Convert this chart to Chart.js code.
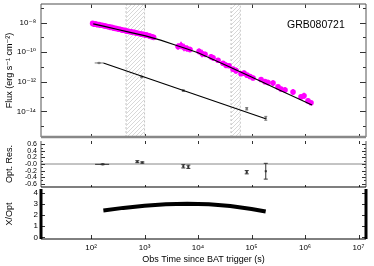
<!DOCTYPE html>
<html>
<head>
<meta charset="utf-8">
<script src="https://cdn.jsdelivr.net/npm/chart.js@4.4.0/dist/chart.umd.min.js"></script>
<style>
  html, body { margin: 0; padding: 0; background: #fff; }
  #wrap { position: relative; width: 374px; height: 266px; overflow: hidden; }
  #wrap canvas { position: absolute; left: 0; }
</style>
</head>
<body>
<div id="wrap">
  <canvas id="flux" width="374" height="141" style="top:0;width:374px;height:141px"></canvas>
  <canvas id="res" width="374" height="54" style="top:137px;width:374px;height:54px"></canvas>
  <canvas id="ratio" width="374" height="79" style="top:187px;width:374px;height:79px"></canvas>
</div>
<script>
// --- data ---
const grbName = 'GRB080721';

// XRT light curve (magenta), error = half width in dex
const xrtTime = [107, 115, 123, 132, 141, 151, 162, 174, 186, 200, 214, 229, 245, 263, 282, 302, 324, 347, 372, 398,
  427, 457, 490, 525, 562, 603, 646, 692, 741, 794, 851, 912, 977, 1047, 1122, 1202, 1288, 1380, 1479,
  4230, 4810, 5470, 6220, 7080, 10450, 11890, 13530, 17500, 19070, 23660, 29320, 33360, 37940, 45080,
  51290, 63630, 72390, 82380, 93740, 106700, 150600, 178600, 203200, 252200, 312900, 356000, 422600,
  596900, 841600, 957600, 1137000, 1294000];
const xrtFlux = [8.7e-9, 7.6e-9, 7.9e-9, 7.2e-9, 7.4e-9, 6.6e-9, 6.5e-9, 6.0e-9, 5.8e-9, 5.4e-9, 5.2e-9, 4.7e-9,
  4.7e-9, 4.2e-9, 4.0e-9, 3.9e-9, 3.5e-9, 3.5e-9, 3.2e-9, 3.0e-9, 2.95e-9, 2.7e-9, 2.6e-9, 2.45e-9, 2.35e-9,
  2.2e-9, 2.15e-9, 1.95e-9, 1.9e-9, 1.8e-9, 1.65e-9, 1.6e-9, 1.55e-9, 1.4e-9, 1.38e-9, 1.26e-9, 1.17e-9,
  1.1e-9, 1.0e-9,
  2.40e-10, 2.82e-10, 2.04e-10, 1.78e-10, 1.51e-10, 1.12e-10, 8.1e-11, 7.1e-11, 4.8e-11, 4.1e-11, 2.8e-11,
  1.78e-11, 1.29e-11, 1.20e-11, 7.1e-12, 5.6e-12, 3.5e-12, 3.8e-12, 2.8e-12, 2.24e-12, 1.78e-12, 1.41e-12,
  1.02e-12, 8.9e-13, 8.1e-13, 4.5e-13, 3.2e-13, 2.8e-13, 2.04e-13, 9.5e-14, 1.12e-13, 5.1e-14, 3.8e-14];
const xrtErr = [0.17, 0.16, 0.18, 0.16, 0.17, 0.15, 0.16, 0.17, 0.15, 0.16, 0.16, 0.17, 0.15, 0.16, 0.17, 0.15,
  0.16, 0.17, 0.16, 0.15, 0.16, 0.17, 0.16, 0.15, 0.17, 0.16, 0.15, 0.17, 0.16, 0.17, 0.18, 0.17, 0.18, 0.19,
  0.18, 0.17, 0.18, 0.17, 0.16,
  0.22, 0.25, 0.25, 0.22, 0.18, 0.2, 0.25, 0.18, 0.2, 0.2, 0.12, 0.15, 0.2, 0.15, 0.15, 0.2, 0.12, 0.18, 0.12,
  0.15, 0.15, 0.15, 0.15, 0.18, 0.2, 0.15, 0.15, 0.2, 0.2, 0.15, 0.2, 0.18, 0.12];

// X-ray model curve
const fitTime = [110, 178, 316, 562, 1000, 1995, 3981, 6310, 10000, 17800, 31600, 100000, 316000, 1349000];
const fitFlux = [8.1e-9, 5.5e-9, 3.39e-9, 2.09e-9, 1.29e-9, 6.5e-10, 2.82e-10, 1.62e-10, 9.1e-11, 3.6e-11,
  1.41e-11, 2.09e-12, 3.0e-13, 2.7e-14];

// optical points (grey) and model
const optTime = [141, 887, 5310, 81300, 184500];
const optTimeLo = [117, 850, 5150, 79500, 181000];
const optTimeHi = [170, 925, 5470, 83100, 188000];
const optFlux = [1.86e-11, 2.1e-12, 2.5e-13, 1.5e-14, 3.4e-15];
const optErr = [0.03, 0.05, 0.05, 0.08, 0.13];
const optFitTime = [170, 184000];
const optFitFlux = [1.86e-11, 3.2e-15];

// optical residuals
const resTime = [165, 733, 908, 5310, 6590, 81300, 184500];
const resTimeLo = [119, 720, 895, 5250, 6500, 80000, 182000];
const resTimeHi = [218, 745, 920, 5370, 6680, 82500, 187000];
const resValue = [-0.01, 0.07, 0.045, -0.07, -0.085, -0.25, -0.22];
const resErr = [0.01, 0.03, 0.02, 0.05, 0.05, 0.05, 0.24];

// X / optical ratio
const ratioTime = [170, 400, 1000, 2500, 6300, 16000, 40000, 100000, 184000];
const ratioValue = [2.42, 2.65, 2.85, 2.97, 3.02, 2.98, 2.82, 2.55, 2.32];

// hatched intervals
const hatchStart = [451, 41400];
const hatchEnd = [1000, 61700];

// ticks
const timeTicks = [1e2, 1e3, 1e4, 1e5, 1e6, 1e7];
const timeTickLabels = ['10²', '10³', '10⁴', '10⁵', '10⁶', '10⁷'];
const fluxTicks = [1e-7, 1e-8, 1e-9, 1e-10, 1e-11, 1e-12, 1e-13, 1e-14, 1e-15];
const fluxTickLabels = ['', '10⁻⁸', '', '10⁻¹⁰', '', '10⁻¹²', '', '10⁻¹⁴', ''];
const resTicks = [0.6, 0.5, 0.4, 0.3, 0.2, 0.1, 0, -0.1, -0.2, -0.3, -0.4, -0.5, -0.6];
const resTickLabels = ['0.6', '', '0.4', '', '0.2', '', '-0.0', '', '-0.2', '', '-0.4', '', '-0.6'];
const ratioTicks = [0, 1, 2, 3, 4];
const ratioTickLabels = ['0', '1', '2', '3', '4'];

// axis ranges
const timeMin = 11.6, timeMax = 1.38e7;
const fluxMin = 1.86e-16, fluxMax = 1.78e-7;

Chart.defaults.font.family = "'Liberation Sans', 'DejaVu Sans', Arial, sans-serif";
Chart.defaults.font.size = 8;
Chart.defaults.color = '#000';

// frame / inward tick styles for each panel
const frameStyles = {
  flux: {
    borders: { top: ['#888', 1.5], left: ['#555', 1], right: ['#555', 1], bottom: ['#888', 2.5] },
    yMajor: 6, yMinor: 3, xTop: 4, xBottom: 3, tickColor: '#333',
  },
  res: {
    borders: { left: ['#555', 1], right: ['#555', 1], bottom: ['#000', 1.2] },
    yMajor: 4, yMinor: 2, xTop: 3, xBottom: 2, tickColor: '#333',
  },
  ratio: {
    borders: { left: ['#000', 3], right: ['#000', 3], bottom: ['#000', 1] },
    yMajor: 4, yMinor: 2, xTop: 0, xBottom: 4, tickColor: '#333',
  },
};

const errorBarPlugin = {
  id: 'errorBars',
  afterDatasetDraw(chart, args) {
    const ds = chart.data.datasets[args.index];
    if (!ds.errorBars) return;
    const { ctx, chartArea: a } = chart;
    const xs = chart.scales.x, ys = chart.scales.y;
    const cap = ds.errorBars.cap || 0;
    ctx.save();
    ctx.beginPath();
    ctx.rect(a.left, a.top, a.right - a.left, a.bottom - a.top);
    ctx.clip();
    ctx.strokeStyle = ds.errorBars.color;
    ctx.lineWidth = ds.errorBars.width;
    ctx.beginPath();
    ds.data.forEach((p) => {
      const px = xs.getPixelForValue(p.x);
      const py = ys.getPixelForValue(p.y);
      if (p.yMin != null) {
        const y1 = ys.getPixelForValue(p.yMin);
        const y2 = ys.getPixelForValue(p.yMax);
        ctx.moveTo(px, y1);
        ctx.lineTo(px, y2);
        if (cap) {
          ctx.moveTo(px - cap, y1); ctx.lineTo(px + cap, y1);
          ctx.moveTo(px - cap, y2); ctx.lineTo(px + cap, y2);
        }
      }
      if (p.xMin != null) {
        ctx.moveTo(xs.getPixelForValue(p.xMin), py);
        ctx.lineTo(xs.getPixelForValue(p.xMax), py);
      }
    });
    ctx.stroke();
    ctx.restore();
  },
};

const framePlugin = {
  id: 'frame',
  afterDraw(chart) {
    const o = frameStyles[chart.canvas.id];
    if (!o) return;
    const { ctx, chartArea: a } = chart;
    const xs = chart.scales.x, ys = chart.scales.y;
    ctx.save();
    ctx.strokeStyle = o.tickColor;
    ctx.lineWidth = 1;
    ctx.beginPath();
    ys.ticks.forEach((t) => {
      const py = Math.round(ys.getPixelForValue(t.value)) + 0.5;
      const len = t.label ? o.yMajor : o.yMinor;
      ctx.moveTo(a.left, py); ctx.lineTo(a.left + len, py);
      ctx.moveTo(a.right, py); ctx.lineTo(a.right - len, py);
    });
    timeTicks.forEach((v) => {
      const px = Math.round(xs.getPixelForValue(v)) + 0.5;
      if (o.xTop) { ctx.moveTo(px, a.top); ctx.lineTo(px, a.top + o.xTop); }
      if (o.xBottom) { ctx.moveTo(px, a.bottom); ctx.lineTo(px, a.bottom - o.xBottom); }
    });
    ctx.stroke();

    const ends = {
      top: [a.left, a.top, a.right, a.top],
      bottom: [a.left, a.bottom, a.right, a.bottom],
      left: [a.left, a.top, a.left, a.bottom],
      right: [a.right, a.top, a.right, a.bottom],
    };
    Object.keys(o.borders).forEach((side) => {
      const [color, w] = o.borders[side];
      const [x1, y1, x2, y2] = ends[side];
      ctx.strokeStyle = color;
      ctx.lineWidth = w;
      ctx.beginPath();
      ctx.moveTo(x1, y1);
      ctx.lineTo(x2, y2);
      ctx.stroke();
    });

    if (chart.canvas.id === 'flux') {
      ctx.fillStyle = '#000';
      ctx.font = "10.5px 'Liberation Sans', Arial, sans-serif";
      ctx.textBaseline = 'middle';
      ctx.textAlign = 'left';
      ctx.fillText(grbName, 287, 25);
    }
    ctx.restore();
  },
};

Chart.register(errorBarPlugin, framePlugin);

function hatchPattern() {
  const c = document.createElement('canvas');
  c.width = 4;
  c.height = 4;
  const g = c.getContext('2d');
  g.fillStyle = '#fff';
  g.fillRect(0, 0, 4, 4);
  g.strokeStyle = '#bdbdbd';
  g.lineWidth = 0.6;
  g.beginPath();
  g.moveTo(0, 4); g.lineTo(4, 0);
  g.moveTo(-1, 1); g.lineTo(1, -1);
  g.moveTo(3, 5); g.lineTo(5, 3);
  g.stroke();
  return g.createPattern(c, 'repeat');
}

// keep the plot box exactly where the axes say: no automatic label padding
function noPad(s) {
  s.paddingTop = 0;
  s.paddingBottom = 0;
  s.paddingLeft = 0;
  s.paddingRight = 0;
}

function timeAxis(show) {
  return {
    type: 'logarithmic',
    min: timeMin,
    max: timeMax,
    display: show,
    afterBuildTicks: (s) => { s.ticks = timeTicks.map((v) => ({ value: v })); },
    afterFit: (s) => { if (show) s.height = 27; noPad(s); },
    ticks: { autoSkip: false, maxRotation: 0, padding: 4, callback: (v, i) => timeTickLabels[i] },
    title: { display: show, text: 'Obs Time since BAT trigger (s)', font: { size: 9 }, padding: { top: 0, bottom: 1 } },
    grid: { display: false, drawTicks: false },
    border: { display: false },
  };
}

function valueAxis(extra) {
  return Object.assign({
    afterFit: (s) => { s.width = 41; noPad(s); },
    grid: { display: false, drawTicks: false },
    border: { display: false },
  }, extra);
}

const baseOptions = {
  responsive: false,
  animation: false,
  devicePixelRatio: 1,
  events: [],
  plugins: { legend: { display: false }, tooltip: { enabled: false } },
};

// --- flux panel ---
const pattern = hatchPattern();
const hatchSets = hatchStart.map((t0, i) => ({
  data: [{ x: t0, y: fluxMin }, { x: t0, y: fluxMax }, { x: hatchEnd[i], y: fluxMax }, { x: hatchEnd[i], y: fluxMin }],
  showLine: true,
  fill: 'start',
  backgroundColor: pattern,
  borderColor: '#aaa',
  borderWidth: 0.7,
  borderDash: [2, 2],
  pointRadius: 0,
  order: 5,
}));

new Chart(document.getElementById('flux'), {
  type: 'scatter',
  data: {
    datasets: [
      {
        data: fitTime.map((t, i) => ({ x: t, y: fitFlux[i] })),
        showLine: true, borderColor: '#000', borderWidth: 1.2, pointRadius: 0, order: 0,
      },
      {
        data: optFitTime.map((t, i) => ({ x: t, y: optFitFlux[i] })),
        showLine: true, borderColor: '#000', borderWidth: 1.2, pointRadius: 0, order: 0,
      },
      {
        data: optTime.map((t, i) => ({
          x: t, y: optFlux[i], xMin: optTimeLo[i], xMax: optTimeHi[i],
          yMin: optFlux[i] / 10 ** optErr[i], yMax: optFlux[i] * 10 ** optErr[i],
        })),
        backgroundColor: '#777', borderWidth: 0, pointRadius: 1.2, order: 1,
        errorBars: { color: '#777', width: 1, cap: 1.5 },
      },
      {
        data: xrtTime.map((t, i) => ({
          x: t, y: xrtFlux[i], yMin: xrtFlux[i] / 10 ** xrtErr[i], yMax: xrtFlux[i] * 10 ** xrtErr[i],
        })),
        backgroundColor: '#ff00ff', borderWidth: 0, pointRadius: 2.8, order: 2,
        errorBars: { color: '#ff00ff', width: 1.6 },
      },
      ...hatchSets,
    ],
  },
  options: {
    ...baseOptions,
    layout: { padding: { top: 4, right: 8, bottom: 2, left: 0 } },
    scales: {
      x: timeAxis(false),
      y: valueAxis({
        type: 'logarithmic',
        min: fluxMin,
        max: fluxMax,
        afterBuildTicks: (s) => { s.ticks = fluxTicks.map((v) => ({ value: v })); },
        ticks: { autoSkip: false, padding: 5, callback: (v, i) => fluxTickLabels[i] },
        title: { display: true, text: 'Flux (erg s⁻¹ cm⁻²)', font: { size: 9 }, padding: { top: 4, bottom: 0 } },
      }),
    },
  },
});

// --- optical residual panel ---
new Chart(document.getElementById('res'), {
  type: 'scatter',
  data: {
    datasets: [
      {
        data: resTime.map((t, i) => ({
          x: t, y: resValue[i], xMin: resTimeLo[i], xMax: resTimeHi[i],
          yMin: resValue[i] - resErr[i], yMax: resValue[i] + resErr[i],
        })),
        backgroundColor: '#222', borderWidth: 0, pointRadius: 1.4, pointStyle: 'rect', order: 0,
        errorBars: { color: '#333', width: 1, cap: 2 },
      },
      {
        data: [{ x: timeMin, y: 0 }, { x: timeMax, y: 0 }],
        showLine: true, borderColor: '#888', borderWidth: 1, pointRadius: 0, order: 3,
      },
    ],
  },
  options: {
    ...baseOptions,
    layout: { padding: { top: 2, right: 8, bottom: 2, left: 0 } },
    scales: {
      x: timeAxis(false),
      y: valueAxis({
        type: 'linear',
        min: -0.7,
        max: 0.7,
        afterBuildTicks: (s) => { s.ticks = resTicks.map((v) => ({ value: v })); },
        ticks: { autoSkip: false, padding: 4, font: { size: 7 }, callback: (v, i) => resTickLabels[i] },
        title: { display: true, text: 'Opt. Res.', font: { size: 9 }, padding: { top: 4, bottom: 0 } },
      }),
    },
  },
});

// --- X / optical ratio panel ---
new Chart(document.getElementById('ratio'), {
  type: 'scatter',
  data: {
    datasets: [
      {
        data: ratioTime.map((t, i) => ({ x: t, y: ratioValue[i] })),
        showLine: true, borderColor: '#000', borderWidth: 4, pointRadius: 0,
      },
    ],
  },
  options: {
    ...baseOptions,
    layout: { padding: { top: 2, right: 8, bottom: 0, left: 0 } },
    scales: {
      x: timeAxis(true),
      y: valueAxis({
        type: 'linear',
        min: -0.15,
        max: 4.35,
        afterBuildTicks: (s) => { s.ticks = ratioTicks.map((v) => ({ value: v })); },
        ticks: { autoSkip: false, padding: 3, callback: (v, i) => ratioTickLabels[i] },
        title: { display: true, text: 'X/Opt', font: { size: 9 }, padding: { top: 4, bottom: 0 } },
      }),
    },
  },
});
</script>
</body>
</html>
